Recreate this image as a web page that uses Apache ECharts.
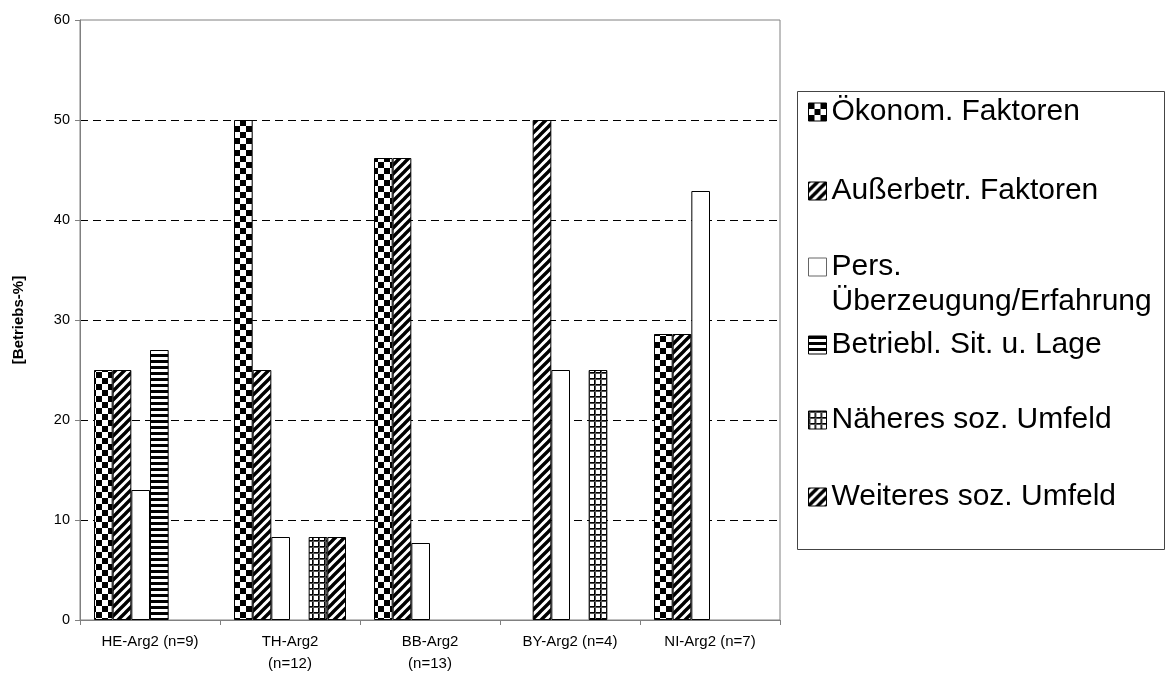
<!DOCTYPE html>
<html>
<head>
<meta charset="utf-8">
<script src="https://cdn.jsdelivr.net/npm/echarts@6/dist/echarts.min.js"></script>
<style>
  html, body { margin: 0; padding: 0; background: #fff; }
  #chart { width: 1166px; height: 688px; }
</style>
</head>
<body>
<div id="chart"></div>
<script>
// Begründungen je Region (Arg2), Anteile in Betriebs-%
const categories = ['HE-Arg2 (n=9)', 'TH-Arg2\n(n=12)', 'BB-Arg2\n(n=13)', 'BY-Arg2 (n=4)', 'NI-Arg2 (n=7)'];
const seriesNames = [
  'Ökonom. Faktoren',
  'Außerbetr. Faktoren',
  'Pers. Überzeugung/Erfahrung',
  'Betriebl. Sit. u. Lage',
  'Näheres soz. Umfeld',
  'Weiteres soz. Umfeld'
];
const oekonomFaktoren    = [25, 50, 46.2, 0, 28.6];
const ausserbetrFaktoren = [25, 25, 46.2, 50, 28.6];
const persUeberzeugung   = [13, 8.3, 7.7, 25, 42.9];
const betrieblLage       = [27, 0, 0, 0, 0];
const naeheresUmfeld     = [0, 8.3, 0, 25, 0];
const weiteresUmfeld     = [0, 8.3, 0, 0, 0];
const yTicks = [0, 10, 20, 30, 40, 50, 60];

// --- Schraffuren als Canvas-Muster ---
function tile(w, h, draw) {
  const c = document.createElement('canvas');
  c.width = w; c.height = h;
  const ctx = c.getContext('2d');
  ctx.fillStyle = '#fff';
  ctx.fillRect(0, 0, w, h);
  draw(ctx);
  return { image: c, repeat: 'repeat' };
}
const checker = tile(12, 12, ctx => {
  ctx.fillStyle = '#000';
  ctx.fillRect(0, 0, 6, 6);
  ctx.fillRect(6, 6, 6, 6);
});
const diagonal = tile(9, 9, ctx => {
  ctx.strokeStyle = '#000';
  ctx.lineWidth = 3.4;
  ctx.beginPath();
  for (const k of [-9, 0, 9]) {
    ctx.moveTo(k - 1, 10);
    ctx.lineTo(k + 10, -1);
  }
  ctx.stroke();
});
const hStripes = tile(6, 6, ctx => {
  ctx.fillStyle = '#000';
  ctx.fillRect(0, 0, 6, 3);
});
const gridHatch = tile(6, 6, ctx => {
  ctx.fillStyle = '#000';
  ctx.fillRect(0, 0, 6, 1);
  ctx.fillRect(0, 0, 1, 6);
  ctx.fillStyle = '#555';
  ctx.fillRect(0, 1, 6, 1);
  ctx.fillRect(1, 0, 1, 6);
});

const fills = [checker, diagonal, '#ffffff', hStripes, gridHatch, diagonal];
const values = [oekonomFaktoren, ausserbetrFaktoren, persUeberzeugung, betrieblLage, naeheresUmfeld, weiteresUmfeld];

const FONT = 'Liberation Sans, Arial, sans-serif';

const series = seriesNames.map((name, i) => ({
  name,
  type: 'bar',
  barGap: '0%',
  barCategoryGap: '20%',
  data: values[i].map(v => (v === 0 ? null : v)),
  itemStyle: { color: fills[i], borderColor: '#000', borderWidth: 1 },
  emphasis: { disabled: true }
}));

// Legende: ein Eintrag je Komponente, damit die Abstände frei wählbar sind
const legendCenters = [112, 191, 267, 345, 420, 497];
const LH = 35;
const legendLabel = n => (n.startsWith('Pers.') ? '\nPers.\nÜberzeugung/Erfahrung' : n);
const legends = seriesNames.map((name, i) => {
  const lines = legendLabel(name).split('\n').length;
  return {
    data: [name],
    orient: 'vertical',
    left: 808,
    top: legendCenters[i] - (LH * lines) / 2,
    padding: 0,
    itemWidth: 18,
    itemHeight: 18,
    selectedMode: false,
    icon: 'rect',
    itemStyle: { borderColor: i === 2 ? '#666' : '#000', borderWidth: 1 },
    formatter: legendLabel,
    textStyle: {
      fontFamily: FONT,
      fontSize: 30,
      lineHeight: LH,
      color: '#000'
    }
  };
});

const chart = echarts.init(document.getElementById('chart'), null, { renderer: 'canvas' });
chart.setOption({
  animation: false,
  backgroundColor: '#fff',
  textStyle: { fontFamily: FONT },
  grid: {
    left: 80, right: 386, top: 20, bottom: 68,
    show: true, borderColor: '#808080', borderWidth: 1,
    containLabel: false, outerBoundsMode: 'none'
  },
  legend: legends,
  graphic: [{
    type: 'rect',
    shape: { x: 797.5, y: 91.5, width: 367, height: 458 },
    style: { fill: 'none', stroke: '#444', lineWidth: 1 },
    z: -1
  }],
  xAxis: {
    type: 'category',
    data: categories,
    axisLine: { lineStyle: { color: '#808080', width: 1 } },
    axisTick: { show: true, length: 5, lineStyle: { color: '#808080' } },
    axisLabel: {
      interval: 0, margin: 11, color: '#000',
      fontFamily: FONT, fontSize: 15, lineHeight: 22
    },
    splitLine: { show: false }
  },
  yAxis: {
    type: 'value',
    min: yTicks[0], max: yTicks[yTicks.length - 1], interval: 10,
    name: '[Betriebs-%]',
    nameLocation: 'middle',
    nameGap: 54,
    nameTextStyle: { fontFamily: FONT, fontSize: 15, fontWeight: 'bold', color: '#000' },
    axisLine: { show: true, lineStyle: { color: '#808080', width: 1 } },
    axisTick: { show: true, length: 5, lineStyle: { color: '#808080' } },
    axisLabel: { color: '#000', fontFamily: FONT, fontSize: 14.5, margin: 10 },
    splitLine: {
      show: true,
      lineStyle: {
        color: yTicks.map((t, i) => (i === 0 || i === yTicks.length - 1 ? 'rgba(0,0,0,0)' : '#000')),
        type: [8, 5],
        width: 1
      }
    }
  },
  series
});
</script>
</body>
</html>
